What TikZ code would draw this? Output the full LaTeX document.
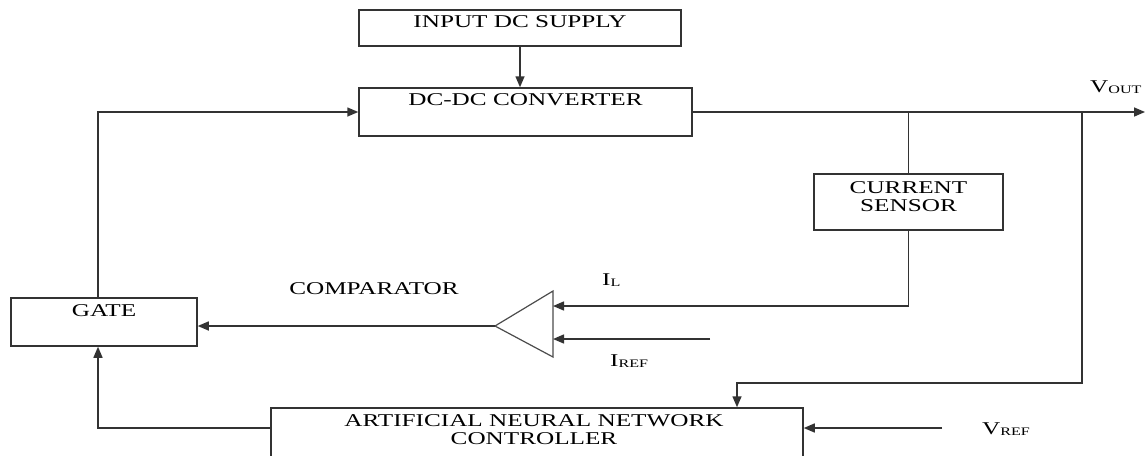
\documentclass[tikz,border=0pt]{standalone}
\usepackage{fontspec}
\setmainfont{Liberation Serif}
\usetikzlibrary{arrows.meta,calc}
\newcommand\stretchtxt[1]{\scalebox{1.4}[1]{#1}}
\newcommand\subtxt[1]{{\fontsize{11.5}{12}\selectfont\raisebox{-1pt}{#1}}}
\begin{document}
\begin{tikzpicture}[x=1pt,y=-1pt,
 box/.style={draw=black!80, line width=1.5pt, inner sep=0pt},
 lbl/.style={inner sep=0pt, font=\fontsize{18}{18}\selectfont, align=center, anchor=north, text=black},
 wire/.style={draw=black!80, line width=1.5pt},
 arr/.style={wire, -{Triangle[length=11pt,width=9pt]}}]
\useasboundingbox (0,0) rectangle (1145,455);
\clip (0,0) rectangle (1145,455);
\fill[white] (0,0) rectangle (1145,455);
% boxes
\node[box, minimum width=322pt, minimum height=36pt] (sup) at (520,28) {};
\node[box, minimum width=333pt, minimum height=48pt] (conv) at (525.5,112) {};
\node[box, minimum width=189pt, minimum height=56pt] (sens) at (908.5,202) {};
\node[box, minimum width=186pt, minimum height=48pt] (gate) at (104,322) {};
\node[box, minimum width=532pt, minimum height=62pt] (ann) at (537,439) {};
% comparator
\coordinate (capex) at (495,326);
\coordinate (ctop) at (553,291);
\coordinate (cbot) at (553,357);
\draw[wire, line width=1.2pt, draw=black!70] (capex) -- (ctop) -- (cbot) -- cycle;
\coordinate (cin1) at (553,306);
\coordinate (cin2) at (553,339);
% labels
\node[lbl] (supT) at ($(sup.north)+(0,6)$) {\stretchtxt{INPUT DC SUPPLY}};
\node[lbl] (convT) at ($(conv.north)+(0,6)$) {\stretchtxt{DC-DC CONVERTER}};
\node[lbl] (sensT) at ($(sens.north)+(0,8)$) {\stretchtxt{CURRENT}\\\stretchtxt{SENSOR}};
\node[lbl] (gateT) at ($(gate.north)+(0,7)$) {\stretchtxt{GATE}};
\node[lbl] (annT) at ($(ann.north)+(-3,7)$) {\stretchtxt{ARTIFICIAL NEURAL NETWORK}\\\stretchtxt{CONTROLLER}};
\node[lbl] (compT) at (374,282) {\stretchtxt{COMPARATOR}};
\node[lbl, anchor=north west] (ilT) at (602,274) {\stretchtxt{I\subtxt{L}}};
\node[lbl, anchor=north west] (irefT) at (610,355) {\stretchtxt{I\subtxt{REF}}};
\node[lbl, anchor=north west] (voutT) at (1090,81) {\stretchtxt{V\subtxt{OUT}}};
\node[lbl, anchor=north west] (vrefT) at (982,423) {\stretchtxt{V\subtxt{REF}}};
% connectors
\draw[arr] (sup.south) -- (sup.south |- conv.north);
\draw[arr] ($(gate.north)+(-6,0)$) |- (conv.west);
\coordinate (vout) at (1145,112);
\draw[arr] (conv.east) -- (vout);
\coordinate (j1) at (sens.north |- conv.east);
\draw[wire] (j1) -- (sens.north);
\draw[arr] (sens.south) |- (cin1);
\coordinate (iref) at (710,339);
\draw[arr] (iref) -- (cin2);
\draw[arr] (capex) -- (capex -| gate.east);
\coordinate (j2) at (1082,112);
\coordinate (k) at (1082,383);
\draw[arr] (j2) -- (k) -| ($(ann.north)+(200,0)$);
\coordinate (vref) at (942,428);
\draw[arr] (vref) -- (vref -| ann.east);
\coordinate (ay) at (0,428);
\draw[arr] (ann.west |- ay) -| ($(gate.south)+(-6,0)$);
\end{tikzpicture}
\end{document}
